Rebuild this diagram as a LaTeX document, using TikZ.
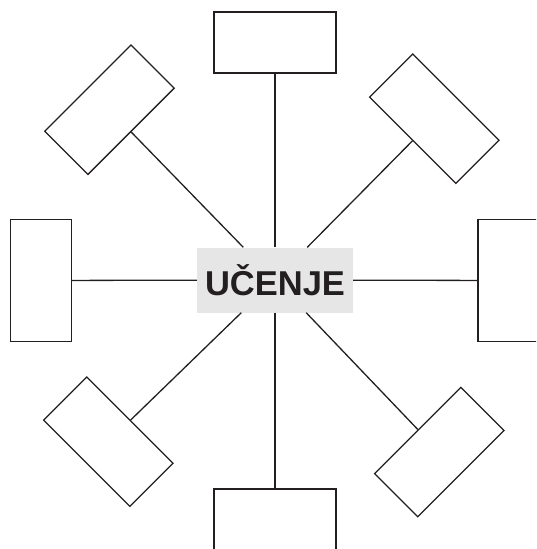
\documentclass[tikz,border=0pt]{standalone}
\usepackage{fontspec}
\setmainfont{Liberation Sans}
\definecolor{ink}{HTML}{231F20}
\definecolor{labelgray}{HTML}{E6E6E6}
\tikzset{
  slot/.style={draw=ink, line width=1.3pt, minimum width=122pt, minimum height=61pt, inner sep=0pt},
  spoke/.style={draw=ink, line width=1.3pt}
}
\begin{document}
\begin{tikzpicture}[x=1pt, y=-1pt]
\clip (0,0) rectangle (536,549);
\node[fill=labelgray, text=ink, minimum width=156pt, minimum height=65pt, inner sep=0pt, font=\fontsize{34.5}{40}\selectfont\bfseries] (learn) at (275,280) {UČENJE};

\node[slot] (n) at (275,42.5) {};
\node[slot, rotate=-45] (ne) at (434.3,118.7) {};
\node[slot, rotate=90] (e) at (508.5,280.5) {};
\node[slot, rotate=45] (se) at (439.3,452) {};
\node[slot] (s) at (275,519.5) {};
\node[slot, rotate=-45] (sw) at (108.3,441.7) {};
\node[slot, rotate=90] (w) at (41,280.5) {};
\node[slot, rotate=45] (nw) at (109.5,109.7) {};

\draw[spoke] (learn) -- (n);
\draw[spoke] (learn) -- (ne);
\draw[spoke] (learn) -- (e);
\draw[spoke] (learn) -- (se);
\draw[spoke] (learn) -- (s);
\draw[spoke] (learn) -- (sw);
\draw[spoke] (learn) -- (w);
\draw[spoke] (learn) -- (nw);
\end{tikzpicture}
\end{document}
